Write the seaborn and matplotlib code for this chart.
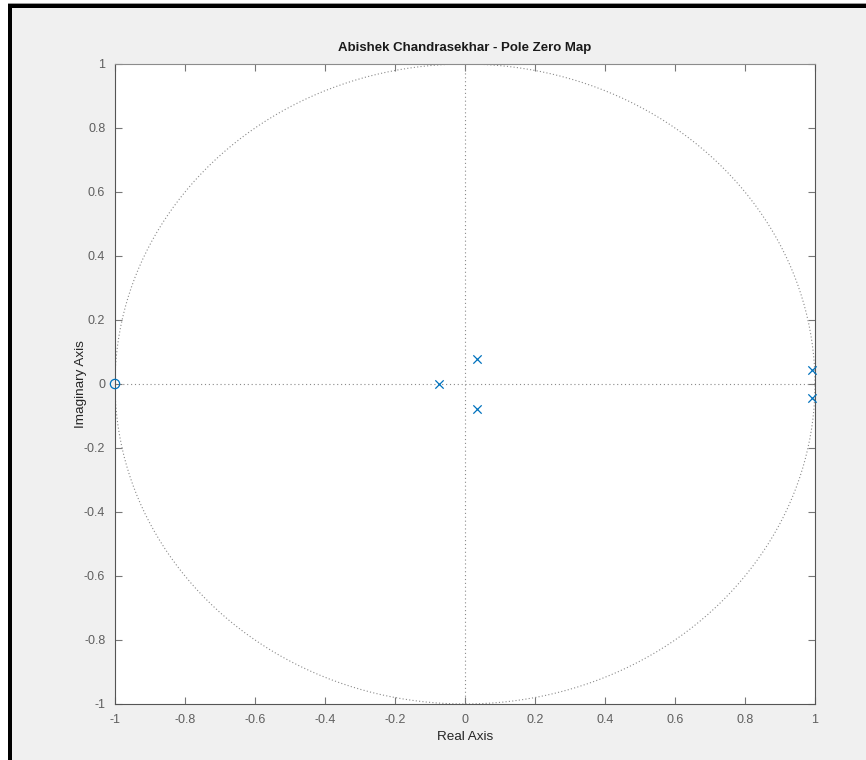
import numpy as np
import pandas as pd
import matplotlib
matplotlib.use("Agg")
import matplotlib.pyplot as plt
from matplotlib.patches import Rectangle
import seaborn as sns

# Poles and zeros of the discrete-time system
pole_re = [-0.075, 0.035, 0.035, 0.99, 0.99]
pole_im = [0.0, 0.078, -0.078, 0.045, -0.045]
zero_re = [-1.0]
zero_im = [0.0]

tick_vals = [-1, -0.8, -0.6, -0.4, -0.2, 0, 0.2, 0.4, 0.6, 0.8, 1]
tick_labels = ["-1", "-0.8", "-0.6", "-0.4", "-0.2", "0", "0.2", "0.4", "0.6", "0.8", "1"]

sns.set_theme(style="white")
plt.rcParams["font.family"] = ["Liberation Sans", "DejaVu Sans"]

BLUE = "#0072BD"
TICK_GRAY = "#5f5f5f"

fig = plt.figure(figsize=(8.66, 7.6), dpi=100, facecolor="#f0f0f0")
ax = fig.add_axes([115 / 866, 56 / 760, 700 / 866, 640 / 760])
ax.set_facecolor("white")

# unit circle and axis cross-hairs
theta = np.linspace(0, 2 * np.pi, 400)
ax.plot(np.cos(theta), np.sin(theta), linestyle=(0, (1, 2)), color="#8a8a8a", lw=0.8, zorder=1)
ax.axhline(0, linestyle=(0, (1, 2.5)), color="#8a8a8a", lw=0.8, zorder=1)
ax.axvline(0, linestyle=(0, (1, 2.5)), color="#8a8a8a", lw=0.8, zorder=1)

poles = pd.DataFrame({"re": pole_re, "im": pole_im})
zeros = pd.DataFrame({"re": zero_re, "im": zero_im})
sns.scatterplot(data=poles, x="re", y="im", marker="x", s=36, color=BLUE,
                linewidth=0.9, ax=ax, zorder=3, clip_on=False)
sns.scatterplot(data=zeros, x="re", y="im", marker="o", s=45, facecolor="none",
                edgecolor=BLUE, linewidth=0.9, ax=ax, zorder=3, clip_on=False)

ax.set_xlim(-1, 1)
ax.set_ylim(-1, 1)
ax.set_xticks(tick_vals)
ax.set_xticklabels(tick_labels)
ax.set_yticks(tick_vals)
ax.set_yticklabels(tick_labels)
ax.tick_params(direction="in", length=5, width=0.8, color="#777777",
               labelcolor=TICK_GRAY, labelsize=9, top=True, right=True,
               bottom=True, left=True, pad=7)
for side, sp in ax.spines.items():
    sp.set_visible(True)
    sp.set_color("#8c8c8c" if side == "top" else "#555555")
    sp.set_linewidth(0.8)

ax.set_xlabel("Real Axis", fontsize=9.7, color="#262626", labelpad=4)
ax.set_ylabel("Imaginary Axis", fontsize=9.7, color="#262626")
ax.yaxis.set_label_coords(-0.04, 0.5)
ax.set_title("Abishek Chandrasekhar - Pole Zero Map", fontsize=9.5,
             fontweight="bold", color="#1a1a1a", pad=9)

# outer frame around the figure window
fig.patches.append(Rectangle((0, 752 / 760), 1, 4 / 760, transform=fig.transFigure,
                             facecolor="black", edgecolor="none", zorder=10))
fig.patches.append(Rectangle((8 / 866, 0), 4 / 866, 756 / 760, transform=fig.transFigure,
                             facecolor="black", edgecolor="none", zorder=10))
fig.patches.append(Rectangle((0, 756 / 760), 1, 1 / 760, transform=fig.transFigure,
                             facecolor="#9a9a9a", edgecolor="none", zorder=10))
fig.patches.append(Rectangle((0, 757 / 760), 1, 3 / 760, transform=fig.transFigure,
                             facecolor="white", edgecolor="none", zorder=10))
fig.patches.append(Rectangle((0, 0), 8 / 866, 757 / 760, transform=fig.transFigure,
                             facecolor="white", edgecolor="none", zorder=10))

fig.savefig("out.png", dpi=100, facecolor=fig.get_facecolor())
